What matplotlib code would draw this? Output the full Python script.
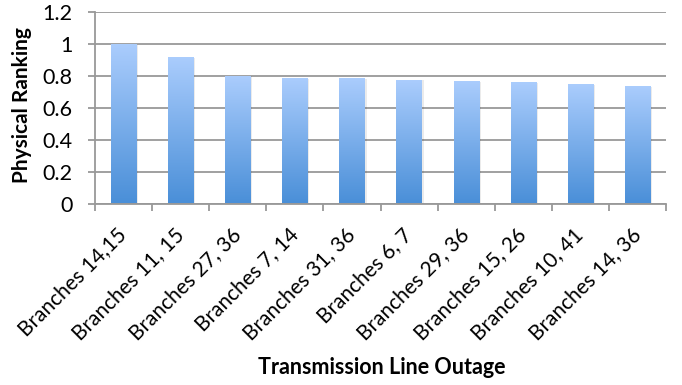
import numpy as np
import matplotlib.pyplot as plt
from matplotlib.colors import LinearSegmentedColormap

plt.rcParams['font.family'] = ['Lato', 'DejaVu Sans']

outages = ['Branches 14,15', 'Branches 11, 15', 'Branches 27, 36', 'Branches 7, 14',
           'Branches 31, 36', 'Branches 6, 7', 'Branches 29, 36', 'Branches 15, 26',
           'Branches 10, 41', 'Branches 14, 36']
ranking = [1.0, 0.918, 0.80, 0.786, 0.786, 0.775, 0.768, 0.762, 0.749, 0.737]

fig = plt.figure(figsize=(6.82, 3.85), dpi=100)
ax = fig.add_axes([95/682, 1 - 203.5/385, 571/682, 191.5/385])

x = np.arange(len(outages))
width = 0.44
grid_col = '#999999'

ax.set_xlim(-0.5, len(outages) - 0.5)
ax.set_ylim(0, 1.2)
ax.set_yticks(np.arange(0, 1.21, 0.2))
ax.set_yticklabels(['0', '0.2', '0.4', '0.6', '0.8', '1', '1.2'])
ax.yaxis.grid(True, color=grid_col, linewidth=1.3)
ax.set_axisbelow(True)

# vertical gradient, dark at the base and pale at the top
cmap = LinearSegmentedColormap.from_list('barfade', ['#4a8fd8', '#abcdfd'])
grad = np.linspace(0, 1, 256).reshape(-1, 1)

for xi, v in zip(x, ranking):
    # soft shadow on the right side
    ax.bar(xi + 0.035, v - 0.004, width, bottom=0, color='#000000', alpha=0.08,
           linewidth=0, zorder=2)
    bar = ax.bar(xi, v, width, color='none', linewidth=0, zorder=3)[0]
    im = ax.imshow(grad, cmap=cmap, aspect='auto', origin='lower',
                   extent=[xi - width/2, xi + width/2, 0, v], zorder=3)
    im.set_clip_path(bar)

ax.set_xlim(-0.5, len(outages) - 0.5)
ax.set_ylim(0, 1.2)

# ticks sit on the category boundaries
ax.set_xticks(np.arange(-0.5, len(outages), 1.0))
ax.set_xticklabels([])
ax.set_xticks(x, minor=True)
ax.set_xticklabels(outages, minor=True, rotation=45, ha='right', va='center',
                   rotation_mode='anchor', fontsize=15)
ax.tick_params(axis='x', which='minor', length=0, pad=20)
ax.tick_params(axis='x', which='major', length=5, width=1.3, color=grid_col)
ax.tick_params(axis='y', length=5, width=1.3, color=grid_col, labelsize=15.5, pad=11)

for side in ['top', 'right']:
    ax.spines[side].set_visible(False)
for side in ['left', 'bottom']:
    ax.spines[side].set_color(grid_col)
    ax.spines[side].set_linewidth(1.3)

fig.text(22/682, 1 - 105/385, 'Physical Ranking', rotation=90, ha='center', va='center',
         fontsize=15, fontweight='bold')
fig.text(382/682, 1 - 367/385, 'Transmission Line Outage', ha='center', va='center',
         fontsize=15.5, fontweight='bold')

plt.savefig('out.png', dpi=100)
